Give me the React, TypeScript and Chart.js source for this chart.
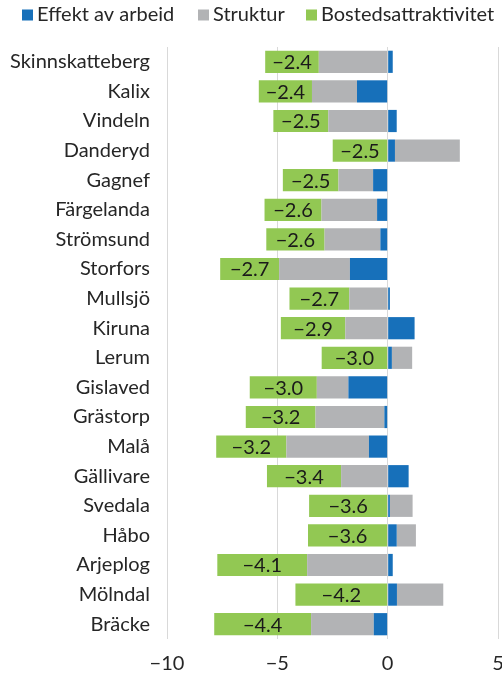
import { useEffect, useRef } from "react";
import { Chart, registerables } from "chart.js";

Chart.register(...registerables);

const categories = [
  "Skinnskatteberg", "Kalix", "Vindeln", "Danderyd", "Gagnef", "Färgelanda",
  "Strömsund", "Storfors", "Mullsjö", "Kiruna", "Lerum", "Gislaved",
  "Grästorp", "Malå", "Gällivare", "Svedala", "Håbo", "Arjeplog", "Mölndal", "Bräcke",
];
const effektAvArbeid = [
  0.23, -1.39, 0.41, 0.33, -0.66, -0.48, -0.33, -1.71, 0.1, 1.22,
  0.19, -1.78, -0.15, -0.85, 0.95, 0.1, 0.41, 0.23, 0.42, -0.63,
];
const struktur = [
  -3.12, -2.04, -2.69, 2.94, -1.57, -2.52, -2.53, -3.21, -1.74, -1.92,
  0.92, -1.43, -3.12, -3.74, -2.11, 1.03, 0.87, -3.65, 2.1, -2.84,
];
const bostedsattraktivitet = [
  -2.43, -2.41, -2.49, -2.49, -2.52, -2.58, -2.64, -2.67, -2.71, -2.92,
  -2.99, -3.04, -3.16, -3.18, -3.36, -3.56, -3.61, -4.07, -4.18, -4.39,
];
const seriesNames = ["Effekt av arbeid", "Struktur", "Bostedsattraktivitet"];
const seriesColors = ["#1770BA", "#B2B3B5", "#92C853"];
const xMin = -10;
const xMax = 5;
const xStep = 5;

const FONT = "Lato";
const TEXT = "#262626";

const minus = (v: number, digits: number) =>
  (v < 0 ? "\u2212" : "") + Math.abs(v).toFixed(digits);

const labelPlugin = {
  id: "greenLabels",
  afterDatasetsDraw(chart: any) {
    const meta = chart.getDatasetMeta(2);
    const ctx = chart.ctx;
    ctx.save();
    ctx.font = `20px ${FONT}`;
    ctx.fillStyle = "#1a1a1a";
    ctx.textAlign = "center";
    ctx.textBaseline = "middle";
    meta.data.forEach((el: any, i: number) => {
      const p = el.getProps(["x", "base", "y"], true);
      ctx.fillText(minus(bostedsattraktivitet[i], 1), (p.x + p.base) / 2, p.y + 1);
    });
    ctx.restore();
  },
};

const legendItemX = [22, 198, 306];

const legendPlugin = {
  id: "customLegend",
  afterDraw(chart: any) {
    const ctx = chart.ctx;
    ctx.save();
    ctx.font = `20px ${FONT}`;
    ctx.textBaseline = "middle";
    const box = 11;
    const y = 15;
    seriesNames.forEach((n, i) => {
      const x = legendItemX[i];
      ctx.fillStyle = seriesColors[i];
      ctx.fillRect(x, y - box / 2, box, box);
      ctx.fillStyle = TEXT;
      ctx.fillText(n, x + box + 4, y);
    });
    ctx.restore();
  },
};

export default function App() {
  const ref = useRef<HTMLCanvasElement>(null);
  useEffect(() => {
    if (!ref.current) return;
    const chart = new Chart(ref.current, {
      type: "bar",
      data: {
        labels: categories,
        datasets: [
          { label: seriesNames[0], data: effektAvArbeid, backgroundColor: seriesColors[0] },
          { label: seriesNames[1], data: struktur, backgroundColor: seriesColors[1] },
          { label: seriesNames[2], data: bostedsattraktivitet, backgroundColor: seriesColors[2] },
        ],
      },
      options: {
        indexAxis: "y",
        responsive: false,
        animation: false,
        layout: { padding: { top: 47, right: 4, left: 0, bottom: 0 } },
        datasets: { bar: { barPercentage: 0.75, categoryPercentage: 1 } },
        plugins: { legend: { display: false }, tooltip: { enabled: false } },
        scales: {
          x: {
            stacked: true,
            min: xMin,
            max: xMax,
            ticks: {
              stepSize: xStep,
              color: TEXT,
              font: { family: FONT, size: 20 },
              padding: 13,
              maxRotation: 0,
              callback: (v: any) => minus(Number(v), 0),
            },
            grid: { color: "#D9D9D9", lineWidth: 1, drawTicks: false },
            border: { display: false },
            afterFit: (s: any) => {
              s.height = 36;
              s.paddingLeft = 0;
              s.paddingRight = 0;
            },
          },
          y: {
            stacked: true,
            ticks: { color: TEXT, font: { family: FONT, size: 20 }, padding: 17 },
            grid: { display: false, drawTicks: false },
            border: { display: false },
            afterFit: (s: any) => {
              s.width = 167;
              s.paddingTop = 0;
              s.paddingBottom = 0;
            },
          },
        },
      },
      plugins: [labelPlugin, legendPlugin],
    });
    return () => chart.destroy();
  }, []);
  return (
    <div style={{ position: "fixed", left: 0, top: 0, width: 502, height: 675, background: "#fff" }}>
      <canvas ref={ref} width={502} height={675} style={{ width: 502, height: 675 }} />
    </div>
  );
}
